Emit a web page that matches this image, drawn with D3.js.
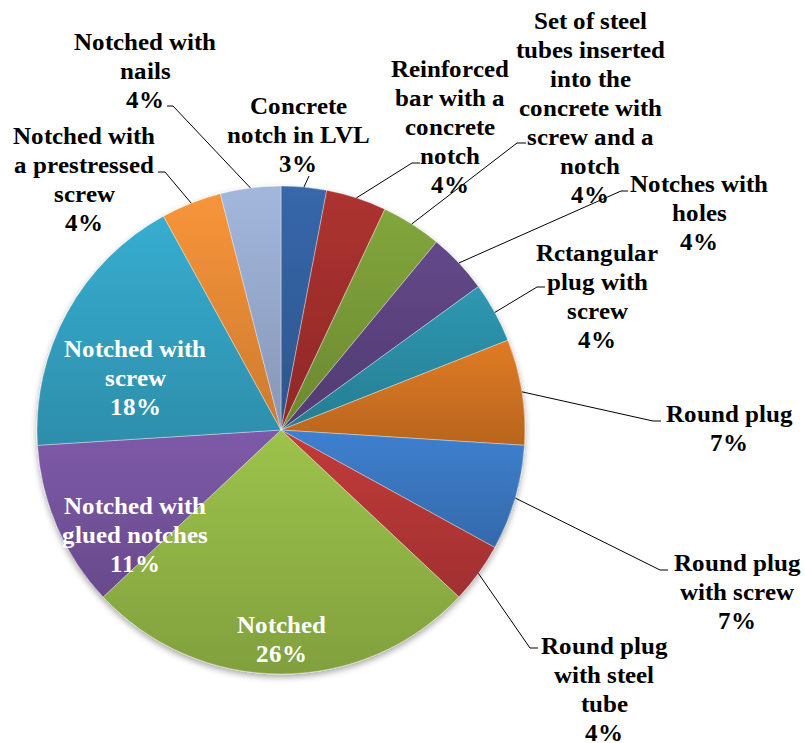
<!DOCTYPE html>
<html>
<head>
<meta charset="utf-8">
<script src="https://cdn.jsdelivr.net/npm/d3@7"></script>
<style>
  @font-face {
    font-family: "LabelSerif";
    src: local("Liberation Serif Bold"), local("LiberationSerif-Bold"), local("Tinos Bold");
    font-weight: bold;
  }
  body { margin: 0; background: #fff; }
</style>
</head>
<body>
<svg id="chart" width="805" height="743"></svg>
<script>
// Connection types (label lines split with \n) and their share in percent
const categories = [
  "Concrete\nnotch in LVL",
  "Reinforced\nbar with a\nconcrete\nnotch",
  "Set of steel\ntubes inserted\ninto the\nconcrete with\nscrew and a\nnotch",
  "Notches with\nholes",
  "Rctangular\nplug with\nscrew",
  "Round plug",
  "Round plug\nwith screw",
  "Round plug\nwith steel\ntube",
  "Notched",
  "Notched with\nglued notches",
  "Notched with\nscrew",
  "Notched with\na prestressed\nscrew",
  "Notched with\nnails"
];
const shares = [3, 4, 4, 4, 4, 7, 7, 4, 26, 11, 18, 4, 4];

// Slice fill colours (top of gradient)
const sliceColors = [
  "#3767aa", "#ad3230", "#82a63c", "#634889", "#2e98b2", "#e07b25",
  "#3f80cf", "#c33b3a", "#9dc34b", "#7e5aa9", "#37add0", "#f8953a", "#a3b7dd"
];

// Label placement: centre x, first line centre y, leader elbow and end
const labelLayout = [
  { x: 298, y: 105, elbow: [309, 176], end: [309, 176] },
  { x: 450, y: 68,  elbow: [412, 163], end: [420, 163] },
  { x: 590, y: 20,  elbow: [517, 143], end: [526, 143] },
  { x: 699, y: 183, elbow: [621, 191], end: [628, 191] },
  { x: 597, y: 252, elbow: [537, 287], end: [545, 287] },
  { x: 729, y: 413, elbow: [653, 421], end: [661, 421] },
  { x: 737, y: 562, elbow: [660, 570], end: [668, 570] },
  { x: 604, y: 645, elbow: [530, 648], end: [538, 648] },
  { x: 281, y: 624, inside: true },
  { x: 135, y: 505, inside: true },
  { x: 135, y: 348, inside: true },
  { x: 84,  y: 135, elbow: [165, 172], end: [158, 172] },
  { x: 145, y: 41,  elbow: [173, 106], end: [167, 106] }
];

const cx = 281, cy = 430, radius = 244;
const lineHeight = 29, fontSize = 25;
const labelFont = "LabelSerif, 'Liberation Serif', Tinos, serif";

const svg = d3.select("#chart");
const defs = svg.append("defs");

// soft shadow under the pie
const shadow = defs.append("filter").attr("id", "pieShadow")
  .attr("x", "-10%").attr("y", "-10%").attr("width", "120%").attr("height", "125%");
shadow.append("feDropShadow")
  .attr("dx", 0).attr("dy", 3).attr("stdDeviation", 3)
  .attr("flood-color", "#000").attr("flood-opacity", 0.35);

// vertical gradient per slice: lighter at top, darker at bottom
sliceColors.forEach((c, i) => {
  const g = defs.append("linearGradient").attr("id", "grad" + i)
    .attr("x1", 0).attr("y1", 0).attr("x2", 0).attr("y2", 1);
  g.append("stop").attr("offset", "0%").attr("stop-color", c);
  g.append("stop").attr("offset", "100%").attr("stop-color", d3.color(c).darker(0.55).formatHex());
});

const pie = d3.pie().sort(null).value(d => d);
const arcs = pie(shares);
const arc = d3.arc().innerRadius(0).outerRadius(radius);

const pieG = svg.append("g")
  .attr("transform", `translate(${cx},${cy})`)
  .attr("filter", "url(#pieShadow)");

pieG.selectAll("path.slice")
  .data(arcs)
  .enter().append("path")
  .attr("class", "slice")
  .attr("d", arc)
  .attr("fill", (d, i) => `url(#grad${i})`)
  .attr("stroke", "rgba(255,255,255,0.45)")
  .attr("stroke-width", 0.8);

// leader lines for outside labels, starting on the rim at each slice's mid-angle
const leaders = svg.append("g").attr("fill", "none").attr("stroke", "#000").attr("stroke-width", 1);
arcs.forEach((d, i) => {
  const L = labelLayout[i];
  if (L.inside) return;
  const a = (d.startAngle + d.endAngle) / 2;
  const p0 = [cx + radius * Math.sin(a), cy - radius * Math.cos(a)];
  leaders.append("path")
    .attr("d", d3.line()([p0, L.elbow, L.end]));
});

// data labels, one text element per line
const labels = svg.append("g");
arcs.forEach((d, i) => {
  const L = labelLayout[i];
  const lines = categories[i].split("\n").concat([shares[i] + "%"]);
  lines.forEach((s, k) => {
    labels.append("text")
      .attr("x", L.x)
      .attr("y", L.y + k * lineHeight + fontSize * 0.34)
      .style("font-family", labelFont)
      .style("font-weight", "bold")
      .style("font-size", fontSize + "px")
      .attr("text-anchor", "middle")
      .attr("fill", L.inside ? "#fff" : "#000")
      .text(s);
  });
});
</script>
</body>
</html>
